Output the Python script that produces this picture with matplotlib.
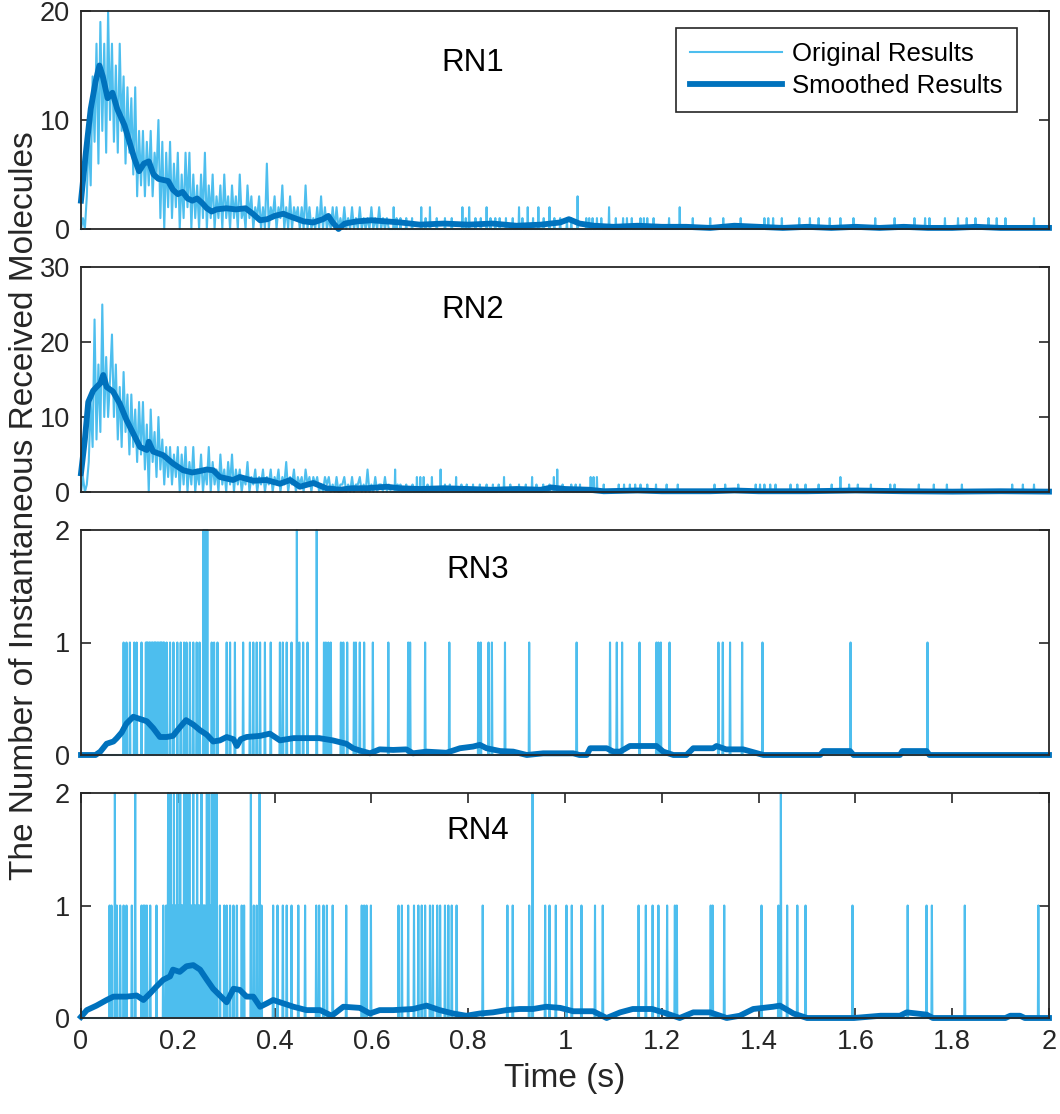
import numpy as np
import matplotlib.pyplot as plt

plt.rcParams['font.family'] = ['Liberation Sans', 'DejaVu Sans']

ORIG_COLOR = '#4DBEEE'
SMOOTH_COLOR = '#0072BD'
AX_COLOR = '#262626'

panel_names = ['RN1', 'RN2', 'RN3', 'RN4']
y_limits = [20, 30, 2, 2]
y_ticks = [[0, 10, 20], [0, 10, 20, 30], [0, 1, 2], [0, 1, 2]]
x_ticks = [0, 0.2, 0.4, 0.6, 0.8, 1, 1.2, 1.4, 1.6, 1.8, 2]
x_tick_labels = ['0', '0.2', '0.4', '0.6', '0.8', '1', '1.2', '1.4', '1.6', '1.8', '2']

# early part of the raw counts, one sample every 4 ms (0 .. 0.636 s)
rn1_dense = [0, 1, 0, 3, 9, 4, 14, 8, 17, 6, 19, 9, 17, 7, 20, 10, 17, 8, 15, 7,
             17, 9, 14, 6, 13, 7, 12, 5, 13, 3, 9, 4, 9, 3, 8, 4, 9, 3, 7, 5,
             10, 1, 8, 0, 7, 2, 8, 1, 6, 2, 7, 0, 5, 1, 7, 2, 7, 0, 5, 1,
             4, 0, 5, 1, 7, 0, 4, 1, 5, 0, 3, 1, 4, 0, 5, 1, 3, 0, 4, 1,
             3, 0, 5, 1, 2, 0, 4, 1, 3, 0, 2, 1, 3, 0, 2, 0, 6, 0, 2, 1,
             3, 0, 2, 1, 4, 0, 2, 0, 3, 0, 2, 1, 2, 0, 2, 0, 4, 0, 2, 0,
             1, 0, 2, 0, 3, 0, 2, 0, 1, 0, 2, 0, 2, 0, 1, 0, 2, 0, 1, 0,
             2, 0, 1, 0, 2, 0, 1, 0, 1, 0, 2, 0, 1, 0, 2, 0, 1, 0, 1, 0]
rn2_dense = [0, 2, 0, 1, 4, 12, 6, 23, 7, 17, 8, 25, 10, 18, 10, 15, 21, 10, 17, 7,
             14, 6, 16, 8, 13, 5, 13, 6, 11, 4, 12, 5, 12, 3, 9, 0, 11, 4, 8, 2,
             10, 3, 7, 1, 6, 2, 6, 1, 5, 2, 6, 0, 5, 1, 6, 0, 4, 1, 6, 0,
             3, 1, 5, 0, 3, 1, 6, 0, 4, 1, 3, 0, 5, 1, 3, 0, 4, 1, 5, 0,
             3, 1, 3, 0, 2, 1, 4, 0, 2, 1, 3, 0, 2, 1, 3, 0, 2, 1, 3, 0,
             2, 1, 3, 0, 2, 1, 4, 0, 2, 1, 3, 0, 2, 1, 2, 0, 3, 1, 2, 0,
             2, 1, 2, 0, 1, 0, 2, 1, 2, 0, 1, 0, 2, 0, 1, 1, 2, 0, 1, 0,
             2, 0, 1, 1, 2, 0, 1, 0, 3, 0, 1, 0, 2, 0, 1, 1, 0, 2, 0, 1]

# isolated spikes of the raw counts (time s, count)
rn1_spikes = [(0.646, 2), (0.652, 1), (0.66, 1), (0.672, 1), (0.684, 1), (0.703, 2), (0.712, 1),
              (0.721, 2), (0.735, 1), (0.752, 1), (0.766, 1), (0.788, 2), (0.795, 1), (0.802, 2),
              (0.815, 1), (0.826, 1), (0.838, 2), (0.846, 1), (0.856, 1), (0.865, 1), (0.878, 1),
              (0.892, 1), (0.905, 2), (0.912, 1), (0.923, 2), (0.934, 1), (0.945, 2), (0.956, 1),
              (0.968, 2), (0.978, 1), (0.99, 1), (1.004, 1), (1.013, 1), (1.026, 3), (1.044, 1),
              (1.05, 1), (1.057, 1), (1.066, 1), (1.075, 1), (1.091, 2), (1.105, 1), (1.12, 1),
              (1.128, 1), (1.138, 1), (1.156, 1), (1.163, 1), (1.17, 1), (1.183, 1), (1.215, 1),
              (1.237, 2), (1.264, 1), (1.3, 1), (1.327, 1), (1.363, 1), (1.412, 1), (1.42, 1),
              (1.43, 1), (1.448, 1), (1.484, 1), (1.506, 1), (1.524, 1), (1.547, 1), (1.569, 1),
              (1.596, 1), (1.641, 1), (1.681, 1), (1.722, 1), (1.744, 1), (1.753, 1), (1.785, 1),
              (1.812, 1), (1.83, 1), (1.848, 1), (1.875, 1), (1.892, 1), (1.91, 1), (1.969, 1)]
rn2_spikes = [(0.649, 3), (0.654, 1), (0.66, 1), (0.672, 1), (0.685, 1), (0.694, 2), (0.701, 2),
              (0.708, 2), (0.716, 1), (0.725, 2), (0.743, 3), (0.752, 1), (0.762, 1), (0.775, 2),
              (0.786, 1), (0.797, 1), (0.81, 1), (0.824, 1), (0.838, 1), (0.851, 1), (0.863, 1),
              (0.874, 2), (0.887, 1), (0.905, 1), (0.919, 1), (0.932, 2), (0.941, 1), (0.955, 1),
              (0.968, 1), (0.977, 2), (0.984, 3), (0.995, 1), (1.013, 1), (1.022, 1), (1.031, 1),
              (1.053, 2), (1.059, 2), (1.066, 2), (1.08, 1), (1.111, 1), (1.122, 1), (1.134, 1),
              (1.145, 1), (1.156, 1), (1.17, 1), (1.188, 1), (1.21, 1), (1.233, 1), (1.309, 1),
              (1.331, 1), (1.358, 1), (1.394, 1), (1.403, 1), (1.412, 1), (1.424, 1), (1.435, 1),
              (1.466, 1), (1.48, 1), (1.497, 1), (1.524, 1), (1.551, 1), (1.569, 2), (1.587, 1),
              (1.605, 1), (1.632, 1), (1.672, 1), (1.681, 1), (1.731, 1), (1.762, 1), (1.789, 1),
              (1.82, 1), (1.924, 1), (1.946, 1), (1.969, 1)]
rn3_spikes = [(0.088, 1), (0.094, 1), (0.101, 1), (0.11, 1), (0.115, 1), (0.125, 1), (0.134, 1),
              (0.136, 1), (0.138, 1), (0.141, 1), (0.143, 1), (0.146, 1), (0.148, 1), (0.151, 1),
              (0.153, 1), (0.155, 1), (0.158, 1), (0.16, 1), (0.163, 1), (0.165, 1), (0.167, 1),
              (0.17, 1), (0.172, 1), (0.177, 1), (0.184, 1), (0.191, 1), (0.199, 1), (0.206, 1),
              (0.213, 1), (0.218, 1), (0.225, 1), (0.232, 1), (0.239, 1), (0.245, 1), (0.253, 2),
              (0.255, 2), (0.257, 2), (0.259, 2), (0.261, 2), (0.27, 1), (0.275, 1), (0.282, 1),
              (0.301, 1), (0.308, 1), (0.318, 1), (0.335, 1), (0.349, 1), (0.356, 1), (0.363, 1),
              (0.37, 1), (0.38, 1), (0.392, 1), (0.411, 1), (0.417, 1), (0.425, 1), (0.435, 1),
              (0.446, 2), (0.451, 1), (0.459, 1), (0.468, 1), (0.487, 2), (0.502, 1), (0.506, 1),
              (0.511, 1), (0.516, 1), (0.537, 1), (0.542, 1), (0.55, 1), (0.564, 1), (0.568, 1),
              (0.576, 1), (0.585, 1), (0.603, 1), (0.635, 1), (0.676, 1), (0.68, 1), (0.711, 1),
              (0.761, 1), (0.821, 1), (0.826, 1), (0.842, 1), (0.849, 1), (0.876, 1), (0.926, 1),
              (1.024, 1), (1.093, 1), (1.107, 1), (1.118, 1), (1.154, 1), (1.189, 1), (1.193, 1),
              (1.198, 1), (1.216, 1), (1.317, 1), (1.326, 1), (1.341, 1), (1.366, 1), (1.408, 1),
              (1.59, 1), (1.749, 1)]
rn4_spikes = [(0.059, 1), (0.063, 1), (0.07, 2), (0.074, 1), (0.081, 1), (0.088, 1), (0.094, 1),
              (0.105, 1), (0.112, 2), (0.125, 1), (0.129, 1), (0.132, 1), (0.136, 1), (0.143, 1),
              (0.156, 1), (0.17, 1), (0.176, 1), (0.18, 2), (0.183, 1), (0.185, 2), (0.187, 1),
              (0.189, 1), (0.192, 2), (0.195, 1), (0.197, 1), (0.199, 2), (0.201, 1), (0.205, 2),
              (0.207, 1), (0.209, 1), (0.211, 1), (0.213, 2), (0.215, 1), (0.218, 2), (0.221, 1),
              (0.224, 2), (0.226, 1), (0.228, 1), (0.23, 1), (0.232, 2), (0.235, 1), (0.237, 1),
              (0.24, 2), (0.243, 1), (0.245, 1), (0.247, 1), (0.249, 2), (0.252, 1), (0.254, 1),
              (0.256, 1), (0.26, 2), (0.262, 1), (0.265, 2), (0.268, 1), (0.271, 2), (0.275, 2),
              (0.277, 1), (0.28, 2), (0.287, 1), (0.296, 1), (0.301, 1), (0.308, 1), (0.315, 1),
              (0.322, 1), (0.332, 1), (0.337, 1), (0.351, 2), (0.357, 1), (0.363, 1), (0.369, 2),
              (0.373, 1), (0.397, 1), (0.406, 1), (0.417, 1), (0.425, 1), (0.435, 1), (0.449, 1),
              (0.463, 1), (0.486, 1), (0.492, 1), (0.501, 1), (0.508, 1), (0.52, 1), (0.548, 1),
              (0.58, 1), (0.585, 1), (0.59, 1), (0.599, 1), (0.656, 1), (0.663, 1), (0.676, 1),
              (0.688, 1), (0.697, 1), (0.704, 1), (0.711, 1), (0.721, 1), (0.727, 1), (0.736, 1),
              (0.742, 1), (0.752, 1), (0.759, 1), (0.766, 1), (0.776, 1), (0.83, 1), (0.881, 1),
              (0.892, 1), (0.926, 1), (0.933, 2), (0.959, 1), (0.968, 1), (0.981, 1), (1.003, 1),
              (1.014, 1), (1.034, 1), (1.062, 1), (1.078, 1), (1.152, 1), (1.167, 1), (1.181, 1),
              (1.193, 1), (1.211, 1), (1.227, 1), (1.231, 1), (1.301, 1), (1.305, 1), (1.329, 1),
              (1.406, 1), (1.441, 1), (1.446, 2), (1.459, 1), (1.48, 1), (1.497, 1), (1.594, 1),
              (1.708, 1), (1.747, 1), (1.758, 1), (1.826, 1), (1.978, 1)]

# smoothed curves (time s, value)
rn1_smooth = [(0, 2.6), (0.01, 7), (0.02, 11), (0.03, 13.5), (0.038, 15), (0.045, 14), (0.055, 12),
              (0.065, 12.5), (0.075, 11), (0.09, 9.5), (0.1, 8), (0.11, 6.5), (0.12, 5.3), (0.13, 6),
              (0.14, 6.2), (0.15, 5), (0.16, 4.6), (0.17, 4.5), (0.18, 4.4), (0.19, 3.6), (0.2, 3.2),
              (0.21, 3.4), (0.22, 2.8), (0.23, 2.6), (0.24, 2.8), (0.25, 2.4), (0.26, 1.9), (0.27, 1.6),
              (0.28, 1.8), (0.3, 1.9), (0.32, 1.8), (0.34, 1.9), (0.355, 1.4), (0.37, 0.8), (0.385, 0.9),
              (0.4, 1.2), (0.418, 1.4), (0.435, 1.1), (0.46, 0.7), (0.48, 0.6), (0.5, 0.9), (0.511, 1.2),
              (0.52, 0.6), (0.532, 0.0), (0.545, 0.5), (0.57, 0.7), (0.6, 0.8), (0.63, 0.7), (0.66, 0.6),
              (0.7, 0.4), (0.75, 0.5), (0.8, 0.4), (0.85, 0.5), (0.9, 0.3), (0.95, 0.4), (0.99, 0.6),
              (1.008, 0.9), (1.03, 0.5), (1.06, 0.3), (1.1, 0.2), (1.15, 0.3), (1.2, 0.2), (1.25, 0.2),
              (1.3, 0.1), (1.35, 0.3), (1.4, 0.2), (1.45, 0.1), (1.5, 0.2), (1.55, 0.1), (1.6, 0.2),
              (1.65, 0.1), (1.7, 0.2), (1.75, 0.1), (1.8, 0.1), (1.85, 0.2), (1.9, 0.1), (1.95, 0.1),
              (2.0, 0.1)]
rn2_smooth = [(0, 2.5), (0.008, 7), (0.015, 12), (0.025, 13.5), (0.032, 14), (0.04, 14.5), (0.046, 15.6),
              (0.053, 14), (0.066, 13.4), (0.08, 11.8), (0.094, 9.6), (0.108, 7.8), (0.122, 6),
              (0.136, 5.6), (0.14, 6.7), (0.149, 5.4), (0.17, 4.9), (0.19, 3.8), (0.211, 2.9), (0.23, 2.6),
              (0.246, 2.8), (0.26, 3.0), (0.273, 2.9), (0.287, 2.0), (0.314, 1.6), (0.328, 2.0),
              (0.356, 1.5), (0.383, 1.6), (0.411, 1.1), (0.432, 1.6), (0.452, 0.7), (0.48, 1.2),
              (0.507, 0.5), (0.535, 0.3), (0.56, 0.5), (0.59, 0.5), (0.632, 0.7), (0.659, 0.5), (0.7, 0.4),
              (0.75, 0.5), (0.8, 0.4), (0.85, 0.3), (0.9, 0.4), (0.95, 0.3), (0.972, 0.6), (1.0, 0.4),
              (1.05, 0.3), (1.08, 0.1), (1.15, 0.2), (1.2, 0.1), (1.3, 0.1), (1.35, 0.2), (1.4, 0.1),
              (1.5, 0.1), (1.6, 0.2), (1.7, 0.1), (1.8, 0.05), (1.9, 0.1), (2.0, 0.05)]
rn3_smooth = [(0, 0), (0.03, 0), (0.04, 0.03), (0.053, 0.1), (0.067, 0.12), (0.074, 0.15), (0.084, 0.2),
              (0.094, 0.28), (0.108, 0.34), (0.122, 0.32), (0.136, 0.3), (0.149, 0.24), (0.163, 0.16),
              (0.177, 0.16), (0.19, 0.17), (0.205, 0.25), (0.217, 0.31), (0.232, 0.27), (0.246, 0.22),
              (0.26, 0.18), (0.273, 0.12), (0.287, 0.13), (0.301, 0.16), (0.315, 0.14), (0.322, 0.08),
              (0.33, 0.14), (0.342, 0.16), (0.37, 0.17), (0.39, 0.19), (0.411, 0.13), (0.439, 0.15),
              (0.466, 0.15), (0.492, 0.15), (0.52, 0.13), (0.548, 0.1), (0.562, 0.06), (0.576, 0.04),
              (0.597, 0.015), (0.617, 0.05), (0.645, 0.045), (0.672, 0.05), (0.686, 0.015), (0.714, 0.03),
              (0.755, 0.02), (0.783, 0.06), (0.81, 0.075), (0.824, 0.09), (0.838, 0.06), (0.866, 0.035),
              (0.893, 0.03), (0.921, 0), (0.955, 0.015), (1.017, 0.015), (1.03, 0), (1.045, 0),
              (1.052, 0.06), (1.086, 0.06), (1.1, 0.03), (1.114, 0.03), (1.134, 0.08), (1.189, 0.08),
              (1.203, 0.03), (1.224, 0), (1.251, 0), (1.265, 0.06), (1.306, 0.06), (1.313, 0.08),
              (1.333, 0.05), (1.368, 0.05), (1.41, 0), (1.527, 0), (1.534, 0.035), (1.589, 0.035),
              (1.596, 0), (1.692, 0), (1.697, 0.035), (1.747, 0.035), (1.753, 0), (2.0, 0)]
rn4_smooth = [(0, 0.01), (0.012, 0.07), (0.032, 0.11), (0.053, 0.16), (0.067, 0.19), (0.094, 0.19),
              (0.115, 0.2), (0.129, 0.16), (0.143, 0.22), (0.156, 0.28), (0.17, 0.34), (0.184, 0.37),
              (0.19, 0.43), (0.204, 0.41), (0.218, 0.46), (0.232, 0.47), (0.246, 0.43), (0.26, 0.34),
              (0.273, 0.26), (0.287, 0.2), (0.301, 0.14), (0.315, 0.26), (0.328, 0.25), (0.342, 0.19),
              (0.356, 0.19), (0.37, 0.1), (0.384, 0.13), (0.397, 0.16), (0.411, 0.14), (0.439, 0.1),
              (0.466, 0.07), (0.494, 0.07), (0.518, 0.02), (0.542, 0.1), (0.576, 0.09), (0.597, 0.04),
              (0.617, 0.07), (0.645, 0.07), (0.686, 0.08), (0.714, 0.11), (0.741, 0.07), (0.769, 0.04),
              (0.796, 0.02), (0.824, 0.04), (0.851, 0.05), (0.879, 0.07), (0.906, 0.08), (0.934, 0.08),
              (0.961, 0.1), (0.99, 0.09), (1.017, 0.06), (1.058, 0.06), (1.086, 0.0), (1.114, 0.05),
              (1.14, 0.08), (1.18, 0.08), (1.21, 0.04), (1.237, 0), (1.265, 0.05), (1.3, 0.05),
              (1.334, 0), (1.361, 0.02), (1.389, 0.08), (1.43, 0.1), (1.444, 0.11), (1.472, 0.04),
              (1.5, 0), (1.597, 0), (1.652, 0.02), (1.692, 0.02), (1.706, 0.05), (1.747, 0.03),
              (1.76, 0), (1.91, 0), (1.92, 0.02), (1.94, 0.02), (1.95, 0), (2.0, 0)]

label_pos = [(0.81, 15.2), (0.81, 24.3), (0.82, 1.64), (0.82, 1.66)]


def original_series(dense, spikes, dense_dt=0.004, dt=0.001, t_end=2.0):
    # dense samples first, then a 1 ms grid that is zero except at the spikes
    t0 = len(dense) * dense_dt
    n = int(round((t_end - t0) / dt)) + 1
    grid_t = t0 + np.arange(n) * dt
    grid_v = np.zeros(n)
    for ts, vs in spikes:
        grid_v[int(round((ts - t0) / dt))] = vs
    t = np.concatenate([np.arange(len(dense)) * dense_dt, grid_t])
    v = np.concatenate([np.array(dense, dtype=float), grid_v])
    return t, v


originals = [original_series(rn1_dense, rn1_spikes), original_series(rn2_dense, rn2_spikes),
             original_series([], rn3_spikes), original_series([], rn4_spikes)]
smooths = [rn1_smooth, rn2_smooth, rn3_smooth, rn4_smooth]

fig = plt.figure(figsize=(10.6, 11.14), dpi=100)
ax_left, ax_width = 81 / 1060, 968 / 1060
panel_px = [(11, 229), (267, 492), (530, 755), (793, 1018)]

for k in range(4):
    top, bottom = panel_px[k]
    ax = fig.add_axes([ax_left, 1 - bottom / 1114, ax_width, (bottom - top) / 1114])
    t, v = originals[k]
    ax.plot(t, v, color=ORIG_COLOR, lw=1.5, label='Original Results', clip_on=False)
    st, sv = zip(*smooths[k])
    ax.plot(st, sv, color=SMOOTH_COLOR, lw=4.2, label='Smoothed Results', clip_on=False)
    ax.set_xlim(0, 2)
    ax.set_ylim(0, y_limits[k])
    ax.set_yticks(y_ticks[k])
    ax.set_yticklabels([str(y) for y in y_ticks[k]])
    if k == 3:
        ax.set_xticks(x_ticks)
        ax.set_xticklabels(x_tick_labels)
        ax.set_xlabel('Time (s)', fontsize=24, color=AX_COLOR, labelpad=6)
    else:
        ax.set_xticks([])
    ax.tick_params(direction='in', length=7, width=1.2, top=True, right=True,
                   labelsize=19.5, colors=AX_COLOR, pad=8)
    for sp in ax.spines.values():
        sp.set_color(AX_COLOR)
        sp.set_linewidth(1.3)
    ax.text(label_pos[k][0], label_pos[k][1], panel_names[k], fontsize=22.5,
            ha='center', va='center', color='black')
    if k == 0:
        leg = ax.legend(loc='upper right', bbox_to_anchor=(0.967, 0.922), fontsize=18.5,
                        fancybox=False, framealpha=1, edgecolor=AX_COLOR, handlelength=3.6,
                        handletextpad=0.4, labelspacing=0.3, borderpad=0.55, borderaxespad=0)
        leg.get_frame().set_linewidth(1.2)

fig.text(0.023, 1 - 506 / 1114, 'The Number of Instantaneous Received Molecules',
         rotation=90, ha='center', va='center', fontsize=24, color=AX_COLOR)

fig.savefig('out.png', dpi=100)
